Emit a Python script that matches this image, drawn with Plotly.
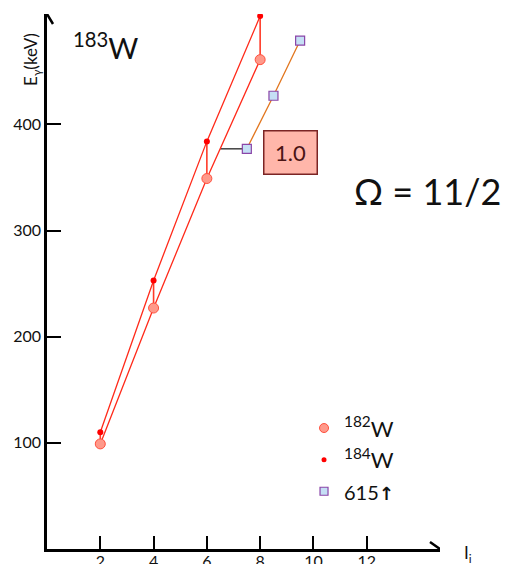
import numpy as np
import plotly.graph_objects as go

# Yrast band spins and gamma energies (keV)
spin = [2, 4, 6, 8]
e_182w = [99, 227, 349, 461]
e_184w = [110, 253, 384, 502]

# 615 keV band in 183W
i_615 = [7.5, 8.5, 9.5]
e_615 = [377, 427, 479]

x_ticks = [2, 4, 6, 8, 10, 12]
y_ticks = [100, 200, 300, 400]
x_max, y_max = 14.75, 504

RED = "#FF2A1A"
FONT = "Lato, Open Sans, sans-serif"

fig = go.Figure()

# vertical links between the 182W and 184W levels of equal spin
vx, vy = [], []
for s, a, b in zip(spin, e_182w, e_184w):
    vx += [s, s, None]
    vy += [a, b, None]
fig.add_trace(go.Scatter(x=vx, y=vy, mode="lines",
                         line=dict(color="#FF3A28", width=1.6), showlegend=False, hoverinfo="skip"))

# horizontal link from the first 615 band point back to the 182W line
x_cross = float(np.interp(e_615[0], e_182w, spin))
fig.add_trace(go.Scatter(x=[x_cross, i_615[0]], y=[e_615[0], e_615[0]], mode="lines",
                         line=dict(color="#404040", width=1.5), showlegend=False, hoverinfo="skip"))

fig.add_trace(go.Scatter(x=spin, y=e_184w, mode="lines+markers",
                         line=dict(color=RED, width=1.3),
                         marker=dict(color="#FF0000", size=6),
                         showlegend=False))
fig.add_trace(go.Scatter(x=spin, y=e_182w, mode="lines+markers",
                         line=dict(color=RED, width=1.3),
                         marker=dict(color="#FF998A", size=10, line=dict(color="#FF503E", width=1)),
                         showlegend=False))
fig.add_trace(go.Scatter(x=i_615, y=e_615, mode="lines+markers",
                         line=dict(color="#E2761E", width=1.3),
                         marker=dict(symbol="square", color="#C5DFF5", size=9,
                                     line=dict(color="#8A45A8", width=1.2)),
                         showlegend=False))

# legend entries (markers only)
fig.add_trace(go.Scatter(x=[None], y=[None], mode="markers", name="<sup>182</sup>W",
                         marker=dict(color="#FF998A", size=9, line=dict(color="#FF503E", width=1))))
fig.add_trace(go.Scatter(x=[None], y=[None], mode="markers", name="<sup>184</sup>W",
                         marker=dict(color="#FF0000", size=5)))
fig.add_trace(go.Scatter(x=[None], y=[None], mode="markers",
                         name="<span style='font-size:20px'>615</span>"
                              "<span style='font-family:DejaVu Sans;font-size:18px'><b>↑</b></span>",
                         marker=dict(symbol="square", color="#C5DFF5", size=8,
                                     line=dict(color="#8A45A8", width=1.2))))

axis_common = dict(showline=True, linecolor="black", linewidth=2.5, ticks="inside",
                   tickwidth=2, tickcolor="black", showgrid=False, zeroline=False,
                   automargin=False,
                   tickfont=dict(family=FONT, size=16, color="#111"))
fig.update_xaxes(range=[0, x_max], tickvals=x_ticks, ticklen=13,
                 ticklabelstandoff=-4, **axis_common)
fig.update_yaxes(range=[0, y_max], tickvals=y_ticks, ticklen=14, **axis_common)

# arrow heads at the ends of both axes
fig.add_shape(type="path", xref="x", yref="y", xsizemode="pixel", ysizemode="pixel",
              xanchor=x_max, yanchor=0, path="M -10 7 L 0 0 L -10 -7",
              line=dict(color="black", width=2.5))
fig.add_shape(type="path", xref="x", yref="y", xsizemode="pixel", ysizemode="pixel",
              xanchor=0, yanchor=y_max, path="M -6 -10 L 0 0 L 6 -10",
              line=dict(color="black", width=2.5))

ann_common = dict(xref="paper", yref="paper", showarrow=False,
                  xanchor="center", yanchor="middle")
annotations = [
    dict(text="E<sub>γ</sub>(keV)", x=-0.037, y=0.915, textangle=-90,
         font=dict(family=FONT, size=17, color="#111"), **ann_common),
    dict(text="I<sub>i</sub>", x=1.07, y=-0.01,
         font=dict(family=FONT, size=17, color="#111"), **ann_common),
    dict(text="<sup>183</sup>W", x=0.149, y=0.94,
         font=dict(family=FONT, size=29, color="#111"), **ann_common),
    dict(text="Ω = 11/2", x=0.967, y=0.67,
         font=dict(family=FONT, size=36, color="#111"), **ann_common),
    dict(text="1.0", x=0.62, y=0.741,
         width=50, height=40, bgcolor="#FFB6AA", bordercolor="#7B2424", borderwidth=1.5,
         font=dict(family=FONT, size=22, color="#4A1414"), **ann_common),
]

fig.update_layout(
    width=514, height=564,
    margin=dict(l=47, r=74, t=14, b=15),
    plot_bgcolor="white", paper_bgcolor="white",
    annotations=annotations,
    legend=dict(x=0.654, y=0.265, xanchor="left", yanchor="top",
                bgcolor="rgba(0,0,0,0)", font=dict(family=FONT, size=22, color="#111"),
                tracegroupgap=0),
)

fig.write_html("out.html")
